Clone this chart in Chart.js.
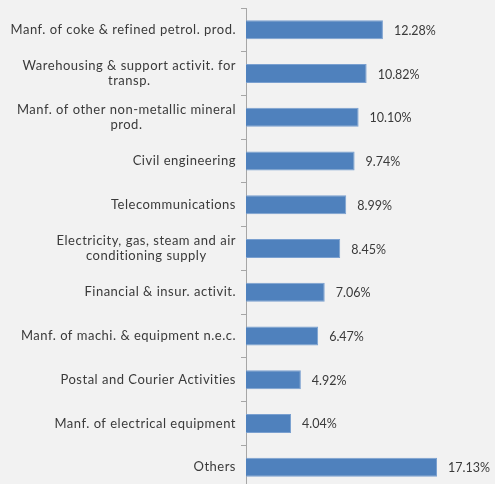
<!DOCTYPE html>
<html>
<head>
<meta charset="utf-8">
<script src="https://cdn.jsdelivr.net/npm/chart.js@4.4.1/dist/chart.umd.min.js"></script>
<style>
  html, body { margin: 0; padding: 0; background: #f2f2f2; overflow: hidden; }
  #wrap { position: relative; width: 495px; height: 489px; }
</style>
</head>
<body>
<div id="wrap"><canvas id="c"></canvas></div>
<script>
// Share of investment by sector (%)
const sectors = [
  ['Manf. of coke & refined petrol. prod.'],
  ['Warehousing & support activit. for', 'transp.'],
  ['Manf. of other non-metallic mineral', 'prod.'],
  ['Civil engineering'],
  ['Telecommunications'],
  ['Electricity, gas, steam and air', 'conditioning supply'],
  ['Financial & insur. activit.'],
  ['Manf. of machi. & equipment n.e.c.'],
  ['Postal and Courier Activities'],
  ['Manf. of electrical equipment'],
  ['Others']
];
const shares = [12.28, 10.82, 10.10, 9.74, 8.99, 8.45, 7.06, 6.47, 4.92, 4.04, 17.13];

const FONT = '"Lato", "Open Sans", sans-serif';
const TEXT = '#3a3a3a';
const AXIS_X = 246;

// Category names, each line centred on the block, block right-aligned to the axis
const sectorLabels = {
  id: 'sectorLabels',
  afterDraw(chart) {
    const ctx = chart.ctx, y = chart.scales.y;
    ctx.save();
    ctx.font = '13px ' + FONT;
    ctx.letterSpacing = '0.5px';
    ctx.fillStyle = TEXT;
    ctx.textAlign = 'center';
    ctx.textBaseline = 'middle';
    const lh = 15;
    sectors.forEach((lines, i) => {
      const w = Math.max(...lines.map(s => ctx.measureText(s).width));
      const cx = y.right - 10 - w / 2;
      const cy = y.getPixelForValue(i);
      lines.forEach((s, k) => {
        ctx.fillText(s, cx, cy + (k - (lines.length - 1) / 2) * lh);
      });
    });
    ctx.restore();
  }
};

// Percent value at the end of each bar
const valueLabels = {
  id: 'valueLabels',
  afterDatasetsDraw(chart) {
    const ctx = chart.ctx;
    const meta = chart.getDatasetMeta(0);
    ctx.save();
    ctx.font = '12.5px ' + FONT;
    ctx.fillStyle = TEXT;
    ctx.textAlign = 'left';
    ctx.textBaseline = 'middle';
    meta.data.forEach((bar, i) => {
      ctx.fillText(shares[i].toFixed(2) + '%', bar.x + 11, bar.y + 1);
    });
    ctx.restore();
  }
};

new Chart(document.getElementById('c'), {
  type: 'bar',
  data: {
    labels: sectors.map(l => l.join(' ')),
    datasets: [{
      data: shares,
      backgroundColor: '#4f81bd',
      borderColor: '#7aa0d0',
      borderWidth: 1,
      barPercentage: 0.87,
      categoryPercentage: 0.5
    }]
  },
  options: {
    indexAxis: 'y',
    responsive: true,
    maintainAspectRatio: false,
    animation: false,
    layout: { padding: { top: 8, right: 26, bottom: 0, left: 0 } },
    plugins: { legend: { display: false }, tooltip: { enabled: false } },
    scales: {
      x: {
        display: false,
        min: 0,
        max: 20
      },
      y: {
        afterFit(scale) { scale.width = AXIS_X; },
        ticks: { display: false },
        border: { display: true, color: '#a6a6a6', width: 1 },
        grid: {
          offset: true,
          drawOnChartArea: false,
          drawTicks: true,
          tickLength: 5,
          color: '#a6a6a6'
        }
      }
    }
  },
  plugins: [sectorLabels, valueLabels]
});
</script>
</body>
</html>
